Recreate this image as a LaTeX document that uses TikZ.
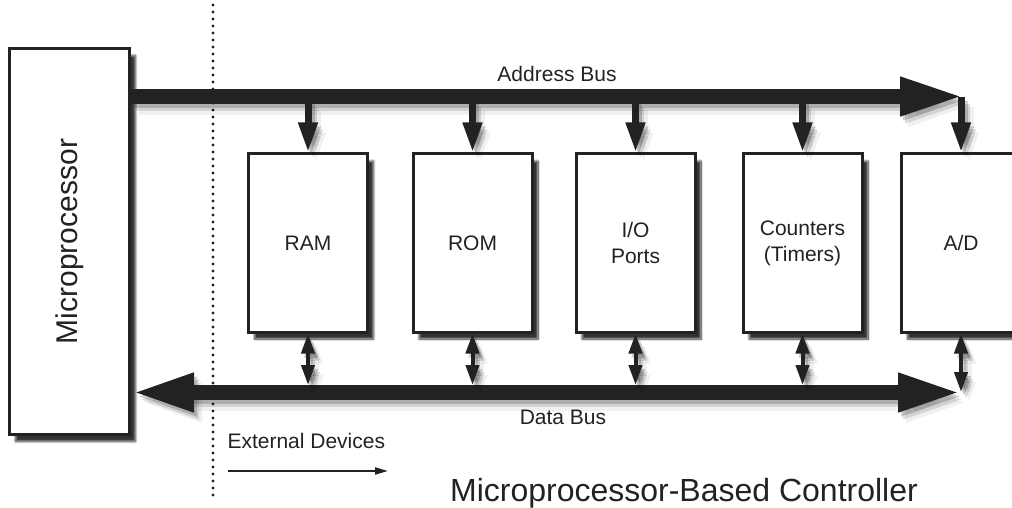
\documentclass[tikz,border=0pt]{standalone}
\usepackage{fontspec}
\setmainfont{Liberation Sans}
\usetikzlibrary{arrows.meta,shadows.blur,positioning}

\definecolor{ink}{HTML}{222222}

\tikzset{
  fuzz/.style={
    preaction={draw=black,line width=#1+2pt,opacity=0.06,
      transform canvas={shift={(8pt,-10pt)}}},
    preaction={draw=black,line width=#1,opacity=0.12,
      transform canvas={shift={(5pt,-7pt)}}},
    preaction={draw=black,line width=#1,opacity=0.18,
      transform canvas={shift={(3pt,-4pt)}}}
  },
  unit/.style={
    draw=ink, line width=3pt, fill=white, text=ink,
    minimum width=119pt, minimum height=178pt,
    align=center, font=\fontsize{21}{26}\selectfont,
    blur shadow={shadow xshift=6pt, shadow yshift=-7pt,
      shadow blur steps=10, shadow opacity=80}
  },
  cpu/.style={
    unit, minimum width=120pt, minimum height=386pt,
    font=\fontsize{30}{36}\selectfont
  },
  bus/.style={draw=ink, line width=15pt, fuzz=15pt},
  tap/.style={draw=ink, line width=7pt, fuzz=7pt,
    -{Triangle[length=30pt,width=18pt]}},
  link/.style={draw=ink, line width=4pt, fuzz=4pt,
    {Triangle[length=20pt,width=13pt]}-{Triangle[length=20pt,width=13pt]}},
  fence/.style={draw=ink, line width=3.4pt, line cap=round,
    dash pattern=on 0pt off 7pt},
  label/.style={text=ink, font=\fontsize{21}{25}\selectfont}
}

\begin{document}
\begin{tikzpicture}[x=1pt,y=-1pt]
  \useasboundingbox (0,0) rectangle (1012,508);

  % separator between controller and external devices
  \coordinate (fence top) at (213,5);
  \coordinate (fence bottom) at (213,502);
  \draw[fence] (fence top) -- (fence bottom);

  % processor and the five units on the buses
  \node[cpu] (mp) at (69.5,241.5) {\rotatebox{90}{Microprocessor}};

  \node[unit] (ram) at (308,243) {RAM};
  \node[unit] (rom) at (472.5,243) {ROM};
  \node[unit] (io) at (635.5,243) {I/O\\Ports};
  \node[unit] (cnt) at (802.5,243) {Counters\\(Timers)};
  \node[unit] (ad) at (961,243) {A/D};

  % address bus
  \coordinate (atip) at (965,96.5);
  \draw[bus, -{Triangle[length=65pt,width=35pt]}]
    (mp.east |- atip) -- (atip);
  \node[label, anchor=base] (alabel) at (557,82) {Address Bus};

  \foreach \u in {ram,rom,io,cnt}
    \draw[tap] (\u.north |- 0,100) -- (\u.north);
  \draw[tap] (ad.north |- 0,97) -- (ad.north);

  % data bus
  \coordinate (dtip) at (962,392.5);
  \draw[bus, {Triangle[length=63pt,width=35pt]}-{Triangle[length=64pt,width=35pt]}]
    (mp.east |- dtip) -- (dtip);
  \node[label, anchor=base] (dlabel) at (563,424) {Data Bus};

  \foreach \u in {ram,rom,io,cnt}
    \draw[link] (\u.south) -- (\u.south |- 0,385);
  \draw[link] (ad.south) -- (ad.south |- 0,392);

  % external devices note
  \node[label, anchor=base west] (ext) at (224,448) {External Devices};
  \coordinate (ext start) at (228,471);
  \coordinate (ext end) at (388,471);
  \draw[ink, line width=2pt, -{Triangle[length=13pt,width=7pt]}]
    (ext start) -- (ext end);

  \node[text=ink, font=\fontsize{32}{36}\selectfont, anchor=base] (title)
    at (684,501) {Microprocessor-Based Controller};
\end{tikzpicture}
\end{document}
